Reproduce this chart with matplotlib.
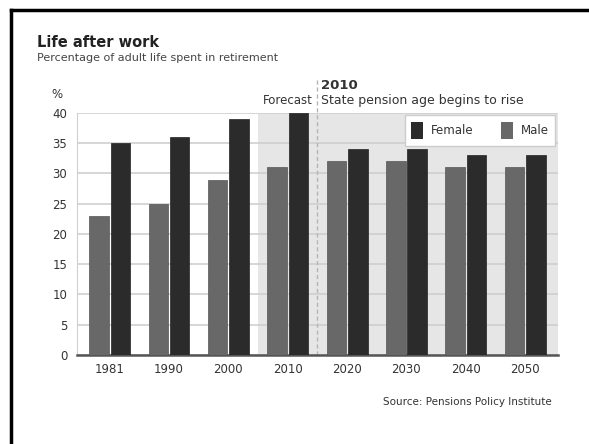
import numpy as np
import matplotlib.pyplot as plt
from matplotlib.lines import Line2D
from matplotlib.patches import Patch

years = ["1981", "1990", "2000", "2010", "2020", "2030", "2040", "2050"]
male = [23, 25, 29, 31, 32, 32, 31, 31]
female = [35, 36, 39, 40, 34, 34, 33, 33]

male_col = "#686868"
female_col = "#2b2b2b"

fig = plt.figure(figsize=(5.89, 4.44), dpi=100)
ax = fig.add_axes([0.1307, 0.2005, 0.8163, 0.545])

x = np.arange(len(years))
w = 0.33
ax.bar(x - w / 2 - 0.015, male, w, color=male_col, edgecolor="#555555", linewidth=0.5, zorder=3)
ax.bar(x + w / 2 + 0.015, female, w, color=female_col, edgecolor="#222222", linewidth=0.5, zorder=3)

ax.set_xlim(-0.55, len(years) - 0.45)
ax.set_ylim(0, 40)

# forecast shading and the 2010 marker line
ax.axvspan(2.5, len(years) - 0.45, color="#e6e6e6", zorder=0, lw=0)
ax.axvline(3.5, ymin=0, ymax=1.14, color="#b5b5b5", ls=(0, (3, 2)), lw=1, clip_on=False, zorder=2)

ax.set_yticks(range(0, 41, 5))
ax.set_xticks(x)
ax.set_xticklabels(years)
ax.yaxis.grid(True, color="#cfcfcf", lw=1.2, zorder=1)
ax.set_axisbelow(True)
ax.tick_params(length=0, labelsize=8.5, colors="#333333", pad=6)
ax.tick_params(axis="y", pad=7)

for s in ["top", "right"]:
    ax.spines[s].set_visible(False)
ax.spines["left"].set_color("#d0d0d0")
ax.spines["bottom"].set_color("#555555")
ax.spines["bottom"].set_linewidth(1.8)

handles = [Patch(facecolor=female_col, label="Female"), Patch(facecolor=male_col, label="Male")]
leg = ax.legend(handles=handles, loc="upper right", ncol=2, fontsize=8.5,
                frameon=True, fancybox=False, edgecolor="#cccccc", framealpha=1,
                handlelength=1.0, handleheight=1.9, columnspacing=2.3, handletextpad=0.7,
                borderpad=0.55, borderaxespad=0.2, bbox_to_anchor=(1.0, 1.0))
leg.get_frame().set_linewidth(1)
for t in leg.get_texts():
    t.set_color("#333333")

fig.text(0.063, 0.895, "Life after work", fontsize=10.5, fontweight="bold", color="#222222")
fig.text(0.063, 0.862, "Percentage of adult life spent in retirement", fontsize=8, color="#444444")
fig.text(0.088, 0.78, "%", fontsize=8.5, color="#333333")
fig.text(0.531, 0.765, "Forecast", fontsize=8.5, color="#333333", ha="right")
fig.text(0.545, 0.8, "2010", fontsize=9.5, fontweight="bold", color="#333333")
fig.text(0.545, 0.765, "State pension age begins to rise", fontsize=9, color="#333333")
fig.text(0.937, 0.088, "Source: Pensions Policy Institute", fontsize=7.5, color="#333333", ha="right")

# outer frame (left and top edges)
fig.add_artist(Line2D([0.019, 0.019], [0, 0.977], color="black", lw=2.5, transform=fig.transFigure))
fig.add_artist(Line2D([0.019, 1.0], [0.977, 0.977], color="black", lw=2.5, transform=fig.transFigure))

fig.savefig("out.png", dpi=100)
